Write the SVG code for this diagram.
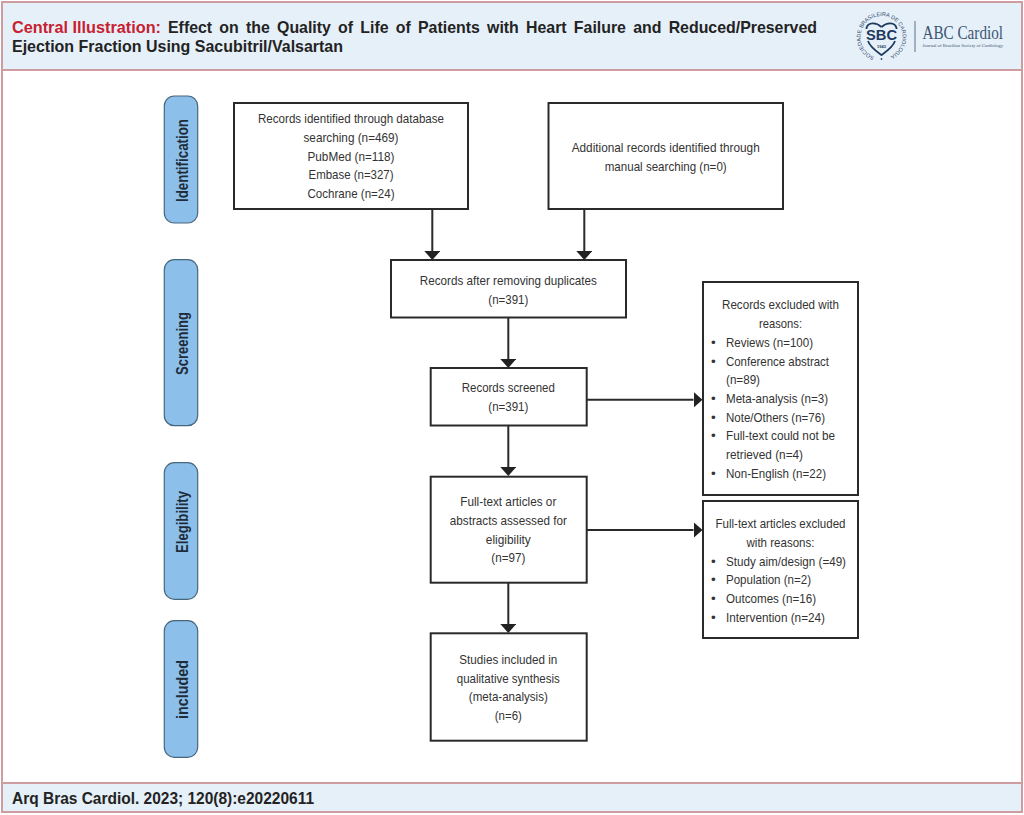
<svg xmlns="http://www.w3.org/2000/svg" width="1024" height="815" viewBox="0 0 1024 815">
<style>
text{font-family:"Liberation Sans",Arial,sans-serif}
.b{fill:#fff;stroke:#2a2a2a;stroke-width:2}
.p{fill:#8cc0ea;stroke:#46667e;stroke-width:1.2}
.t{font-size:13.500px;fill:#333;text-anchor:middle}
.l{font-size:13.500px;fill:#333}
.s{font-size:16px;font-weight:bold;fill:#1f2d3a;text-anchor:middle}
.h{font-size:17px;font-weight:bold;fill:#232323}
.c{fill:none;stroke:#2a2a2a;stroke-width:2}
.band{fill:#e6f0f9;stroke:#cf9ca2;stroke-width:2}
</style>
<defs>
<marker id="a" markerUnits="userSpaceOnUse" markerWidth="9" markerHeight="16" refX="0" refY="8" orient="auto"><path d="M0 0L9 8L0 16Z" fill="#222"/></marker>
<path id="ring" d="M874.300 56.700A21 21 0 1 1 888.700 56.700"/>
</defs>
<rect width="1024" height="815" fill="#fff"/>
<rect x="2" y="2" width="1020" height="810" fill="#fff" stroke="#cf9ca2" stroke-width="2"/>
<g id="header">
<rect class="band" x="2" y="2" width="1020" height="68"/>
<text class="h" x="12" y="33" style="fill:#c8202f" textLength="149" lengthAdjust="spacingAndGlyphs">Central Illustration:</text>
<text class="h" x="168" y="33" style="word-spacing:3px" textLength="649" lengthAdjust="spacingAndGlyphs">Effect on the Quality of Life of Patients with Heart Failure and Reduced/Preserved</text>
<text class="h" x="12" y="52" textLength="331" lengthAdjust="spacingAndGlyphs">Ejection Fraction Using Sacubitril/Valsartan</text>
</g>
<g id="logo">
<text font-size="5.500" fill="#2f4a6b"><textPath href="#ring" textLength="115">SOCIEDADE BRASILEIRA DE CARDIOLOGIA</textPath></text>
<circle cx="881.500" cy="59" r="0.900" fill="#2f4a6b"/>
<path d="M881.500 27C876 22 868 22 866.500 28V29M896.500 29V28C895 22 887 22 881.500 27M868 41C870 47 876 51 881.500 55C887 51 893 47 895 41" fill="none" stroke="#1f3a60" stroke-width="1.800"/>
<text x="881.500" y="40" font-size="15" font-weight="bold" fill="#1f3a60" text-anchor="middle" textLength="31" lengthAdjust="spacingAndGlyphs">SBC</text>
<text x="881.500" y="48" font-size="4" font-weight="bold" fill="#1f3a60" text-anchor="middle">1943</text>
<path d="M915 21V52" stroke="#5d7389" stroke-width="1"/>
<text x="922.500" y="39" font-size="18" fill="#3c5674" textLength="80.500" lengthAdjust="spacingAndGlyphs" style="font-family:'Liberation Serif',serif">ABC Cardiol</text>
<text x="922.500" y="46.500" font-size="5" fill="#3c5674" textLength="80.500" lengthAdjust="spacingAndGlyphs" style="font-family:'Liberation Serif',serif">Journal of Brazilian Society of Cardiology</text>
</g>
<g id="footer">
<rect class="band" x="2" y="783" width="1020" height="29"/>
<text x="12" y="804" font-size="16" font-weight="bold" fill="#232323" textLength="302" lengthAdjust="spacingAndGlyphs">Arq Bras Cardiol. 2023; 120(8):e20220611</text>
</g>
<g id="connectors">
<path class="c" d="M432.300 209V251" marker-end="url(#a)"/>
<path class="c" d="M584.300 209V251" marker-end="url(#a)"/>
<path class="c" d="M508.300 317V359" marker-end="url(#a)"/>
<path class="c" d="M508.300 426V467" marker-end="url(#a)"/>
<path class="c" d="M508.300 583V624" marker-end="url(#a)"/>
<path class="c" d="M586 399.700H693.500" marker-end="url(#a)"/>
<path class="c" d="M586 530H693.500" marker-end="url(#a)"/>
</g>
<g id="identification"><rect class="p" x="164.300" y="96" width="33.400" height="127" rx="10"/><text class="s" transform="translate(187.500 160.500) rotate(-90)" textLength="83" lengthAdjust="spacingAndGlyphs">Identification</text></g>
<g id="screening"><rect class="p" x="164.300" y="259.700" width="33.400" height="166" rx="10"/><text class="s" transform="translate(187.500 343.500) rotate(-90)" textLength="63" lengthAdjust="spacingAndGlyphs">Screening</text></g>
<g id="elegibility"><rect class="p" x="164.300" y="462.700" width="33.400" height="136.600" rx="10"/><text class="s" transform="translate(187.500 522) rotate(-90)" textLength="62" lengthAdjust="spacingAndGlyphs">Elegibility</text></g>
<g id="included"><rect class="p" x="164.300" y="620.700" width="33.400" height="136.600" rx="10"/><text class="s" transform="translate(187.500 689.500) rotate(-90)" textLength="59" lengthAdjust="spacingAndGlyphs">included</text></g>
<g id="records-identified"><rect class="b" x="234" y="103" width="234" height="106"/>
<text class="t" x="351" y="123" textLength="186" lengthAdjust="spacingAndGlyphs">Records identified through database</text>
<text class="t" x="351" y="142" textLength="95" lengthAdjust="spacingAndGlyphs">searching (n=469)</text>
<text class="t" x="351" y="161" textLength="87" lengthAdjust="spacingAndGlyphs">PubMed (n=118)</text>
<text class="t" x="351" y="179" textLength="85" lengthAdjust="spacingAndGlyphs">Embase (n=327)</text>
<text class="t" x="351" y="198" textLength="87" lengthAdjust="spacingAndGlyphs">Cochrane (n=24)</text></g>
<g id="additional-records"><rect class="b" x="548.500" y="103" width="234.500" height="106"/>
<text class="t" x="665.700" y="152" textLength="188" lengthAdjust="spacingAndGlyphs">Additional records identified through</text>
<text class="t" x="665.700" y="171" textLength="122" lengthAdjust="spacingAndGlyphs">manual searching (n=0)</text></g>
<g id="after-duplicates"><rect class="b" x="391" y="260" width="235" height="57.500"/>
<text class="t" x="508.300" y="285" textLength="177" lengthAdjust="spacingAndGlyphs">Records after removing duplicates</text>
<text class="t" x="508.300" y="304" textLength="40" lengthAdjust="spacingAndGlyphs">(n=391)</text></g>
<g id="screened"><rect class="b" x="430.700" y="368" width="156" height="57.500"/>
<text class="t" x="508.300" y="392" textLength="93" lengthAdjust="spacingAndGlyphs">Records screened</text>
<text class="t" x="508.300" y="411" textLength="40" lengthAdjust="spacingAndGlyphs">(n=391)</text></g>
<g id="full-text"><rect class="b" x="430.700" y="476.700" width="156" height="106"/>
<text class="t" x="508.300" y="506" textLength="96" lengthAdjust="spacingAndGlyphs">Full-text articles or</text>
<text class="t" x="508.300" y="525" textLength="117" lengthAdjust="spacingAndGlyphs">abstracts assessed for</text>
<text class="t" x="508.300" y="544" textLength="45" lengthAdjust="spacingAndGlyphs">eligibility</text>
<text class="t" x="508.300" y="562" textLength="34" lengthAdjust="spacingAndGlyphs">(n=97)</text></g>
<g id="studies-included"><rect class="b" x="430.700" y="633.300" width="156" height="107.400"/>
<text class="t" x="508.300" y="664" textLength="98" lengthAdjust="spacingAndGlyphs">Studies included in</text>
<text class="t" x="508.300" y="683" textLength="103" lengthAdjust="spacingAndGlyphs">qualitative synthesis</text>
<text class="t" x="508.300" y="701" textLength="79" lengthAdjust="spacingAndGlyphs">(meta-analysis)</text>
<text class="t" x="508.300" y="720" textLength="27" lengthAdjust="spacingAndGlyphs">(n=6)</text></g>
<g id="records-excluded"><rect class="b" x="703" y="282" width="155" height="213"/>
<text class="t" x="780.500" y="309" textLength="117" lengthAdjust="spacingAndGlyphs">Records excluded with</text>
<text class="t" x="780.500" y="328" textLength="43" lengthAdjust="spacingAndGlyphs">reasons:</text>
<text class="l" x="711" y="347">•</text><text class="l" x="726" y="347" textLength="87" lengthAdjust="spacingAndGlyphs">Reviews (n=100)</text>
<text class="l" x="711" y="366">•</text><text class="l" x="726" y="366" textLength="103" lengthAdjust="spacingAndGlyphs">Conference abstract</text>
<text class="l" x="726" y="384" textLength="34" lengthAdjust="spacingAndGlyphs">(n=89)</text>
<text class="l" x="711" y="403">•</text><text class="l" x="726" y="403" textLength="102" lengthAdjust="spacingAndGlyphs">Meta-analysis (n=3)</text>
<text class="l" x="711" y="422">•</text><text class="l" x="726" y="422" textLength="99" lengthAdjust="spacingAndGlyphs">Note/Others (n=76)</text>
<text class="l" x="711" y="440">•</text><text class="l" x="726" y="440" textLength="109" lengthAdjust="spacingAndGlyphs">Full-text could not be</text>
<text class="l" x="726" y="459" textLength="77" lengthAdjust="spacingAndGlyphs">retrieved (n=4)</text>
<text class="l" x="711" y="478">•</text><text class="l" x="726" y="478" textLength="100" lengthAdjust="spacingAndGlyphs">Non-English (n=22)</text></g>
<g id="full-text-excluded"><rect class="b" x="703" y="501" width="155" height="137"/>
<text class="t" x="780.500" y="528" textLength="130" lengthAdjust="spacingAndGlyphs">Full-text articles excluded</text>
<text class="t" x="780.500" y="547" textLength="68" lengthAdjust="spacingAndGlyphs">with reasons:</text>
<text class="l" x="711" y="566">•</text><text class="l" x="726" y="566" textLength="120" lengthAdjust="spacingAndGlyphs">Study aim/design (=49)</text>
<text class="l" x="711" y="584">•</text><text class="l" x="726" y="584" textLength="85" lengthAdjust="spacingAndGlyphs">Population (n=2)</text>
<text class="l" x="711" y="603">•</text><text class="l" x="726" y="603" textLength="90" lengthAdjust="spacingAndGlyphs">Outcomes (n=16)</text>
<text class="l" x="711" y="622">•</text><text class="l" x="726" y="622" textLength="99" lengthAdjust="spacingAndGlyphs">Intervention (n=24)</text></g>
</svg>
